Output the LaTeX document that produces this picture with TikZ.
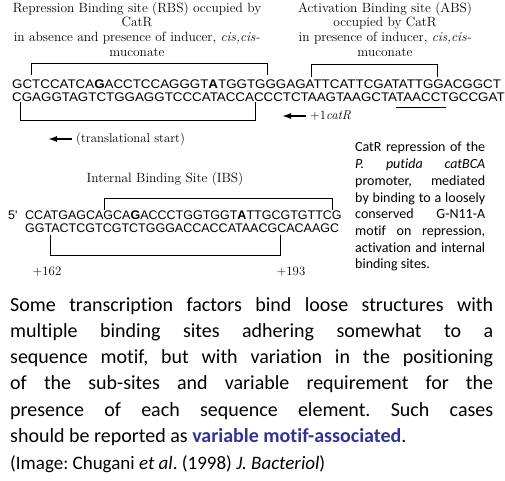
\documentclass[tikz,border=0pt]{standalone}
\usepackage{fontspec}
\usetikzlibrary{arrows.meta}
\newfontfamily\seqfont{Liberation Sans}
\newfontfamily\capfont[Ligatures=NoCommon]{Carlito}
\definecolor{motifblue}{RGB}{48,50,150}
\newcommand{\widerow}[1]{\scalebox{1.068}[1]{#1}}
\frenchspacing

\begin{document}
\begin{tikzpicture}[x=1pt, y=-1pt,
    seq/.style={anchor=west, inner sep=0pt, font=\fontsize{12.5}{13}\seqfont},
    head/.style={anchor=north, inner sep=0pt, align=center, font=\fontsize{13.4}{14.6}\selectfont},
    lbl/.style={inner sep=0pt, font=\fontsize{12.8}{13}\selectfont},
    brk/.style={line width=0.9pt},
    startarrow/.style={-{Latex[length=9pt,width=6pt]}, line width=1.6pt}]

    \useasboundingbox (0,0) rectangle (505,480);
    \clip (0,0) rectangle (505,480);

    % Titoli
    \node[head] (rbshead) at (137,2)
    {Repression Binding site (RBS) occupied by\\CatR\\in absence and presence of inducer, \textit{cis,cis-}\\muconate};
    \node[head] (abshead) at (385,2)
    {Activation Binding site (ABS)\\occupied by CatR\\in presence of inducer, \textit{cis,cis-}\\muconate};

    % Sequenze promotore
    \node[seq] (rbstop) at (12,84)
    {\widerow{GCTCCATCA\textbf{G}ACCTCCAGGGT\textbf{A}TGGTGGGAGATTCATTCGATATTGGACGGCT}};
    \node[seq] (rbsbot) at (12,97)
    {\widerow{CGAGGTAGTCTGGAGGTCCCATACCACCCTCTAAGTAAGCTATAACCTGCCGAT}};

    % Parentesi RBS e ABS
    \coordinate (rbs1) at (31,75);
    \coordinate (rbs2) at (267,75);
    \coordinate (abs1) at (311,77);
    \coordinate (abs2) at (437,77);
    \draw[brk] (rbs1) -- ++(0,-12) -| (rbs2);
    \draw[brk] (abs1) -- ++(0,-13) -| (abs2);

    \coordinate (low1) at (20,102);
    \coordinate (low2) at (255,102);
    \draw[brk] (low1) -- ++(0,18) -| (low2);

    % Sottolineatura
    \coordinate (ul1) at (396,107);
    \coordinate (ul2) at (446,107);
    \draw[line width=0.8pt] (ul1) -- (ul2);

    % Frecce
    \node[lbl, anchor=west] (catr) at (310,116) {+1\textit{catR}};
    \coordinate (catarr) at (282,116);
    \draw[startarrow] (catr.west) ++(-4,0) -- (catarr);

    \node[lbl, anchor=west] (tstart) at (76,139) {(translational start)};
    \coordinate (tsarr) at (48,139);
    \draw[startarrow] (tstart.west) ++(-4,0) -- (tsarr);

    % Sito interno
    \node[head] (ibshead) at (165,172) {Internal Binding Site (IBS)};

    \node[seq] (five) at (8,215) {5'};
    \node[seq] (ibstop) at (25,215)
    {CCATGAGCAGCA\textbf{G}ACCCTGGTGGT\textbf{A}TTGCGTGTTCG};
    \node[seq] (ibsbot) at (25,228)
    {GGTACTCGTCGTCTGGGACCACCATAACGCACAAGC};

    \coordinate (ibs1) at (104,210);
    \coordinate (ibs2) at (332,210);
    \draw[brk] (ibs1) -- ++(0,-12) -| (ibs2);

    \coordinate (ibs3) at (50,235);
    \coordinate (ibs4) at (280,235);
    \draw[brk] (ibs3) -- ++(0,20) -| (ibs4);

    \node[lbl] (p162) at (47,272) {+162};
    \node[lbl] (p193) at (291,272) {+193};

    % Didascalia
    \node[anchor=north west, inner sep=0pt, text width=130pt, align=justify,
          font=\fontsize{14}{16.7}\capfont] (caption) at (355,142)
    {CatR repression of the\linebreak
     \textit{P. putida catBCA}\linebreak
     promoter, mediated\linebreak
     by binding to a loosely\linebreak
     conserved G-N11-A\linebreak
     motif on repression,\linebreak
     activation and internal\linebreak
     binding sites.};

    % Testo
    \node[anchor=north west, inner sep=0pt, text width=483pt, align=justify,
          font=\fontsize{20}{26.3}\capfont] (body) at (10,297)
    {Some transcription factors bind loose structures with\linebreak
     multiple binding sites adhering somewhat to a\linebreak
     sequence motif, but with variation in the positioning\linebreak
     of the sub-sites and variable requirement for the\linebreak
     presence of each sequence element. Such cases\linebreak
     should be reported as \textcolor{motifblue}{\textbf{variable motif-associated}}.};

    \node[anchor=west, inner sep=0pt, font=\fontsize{19}{22}\capfont] (cite) at (10,464)
    {(Image: Chugani \textit{et al}. (1998) \textit{J. Bacteriol})};

\end{tikzpicture}
\end{document}
